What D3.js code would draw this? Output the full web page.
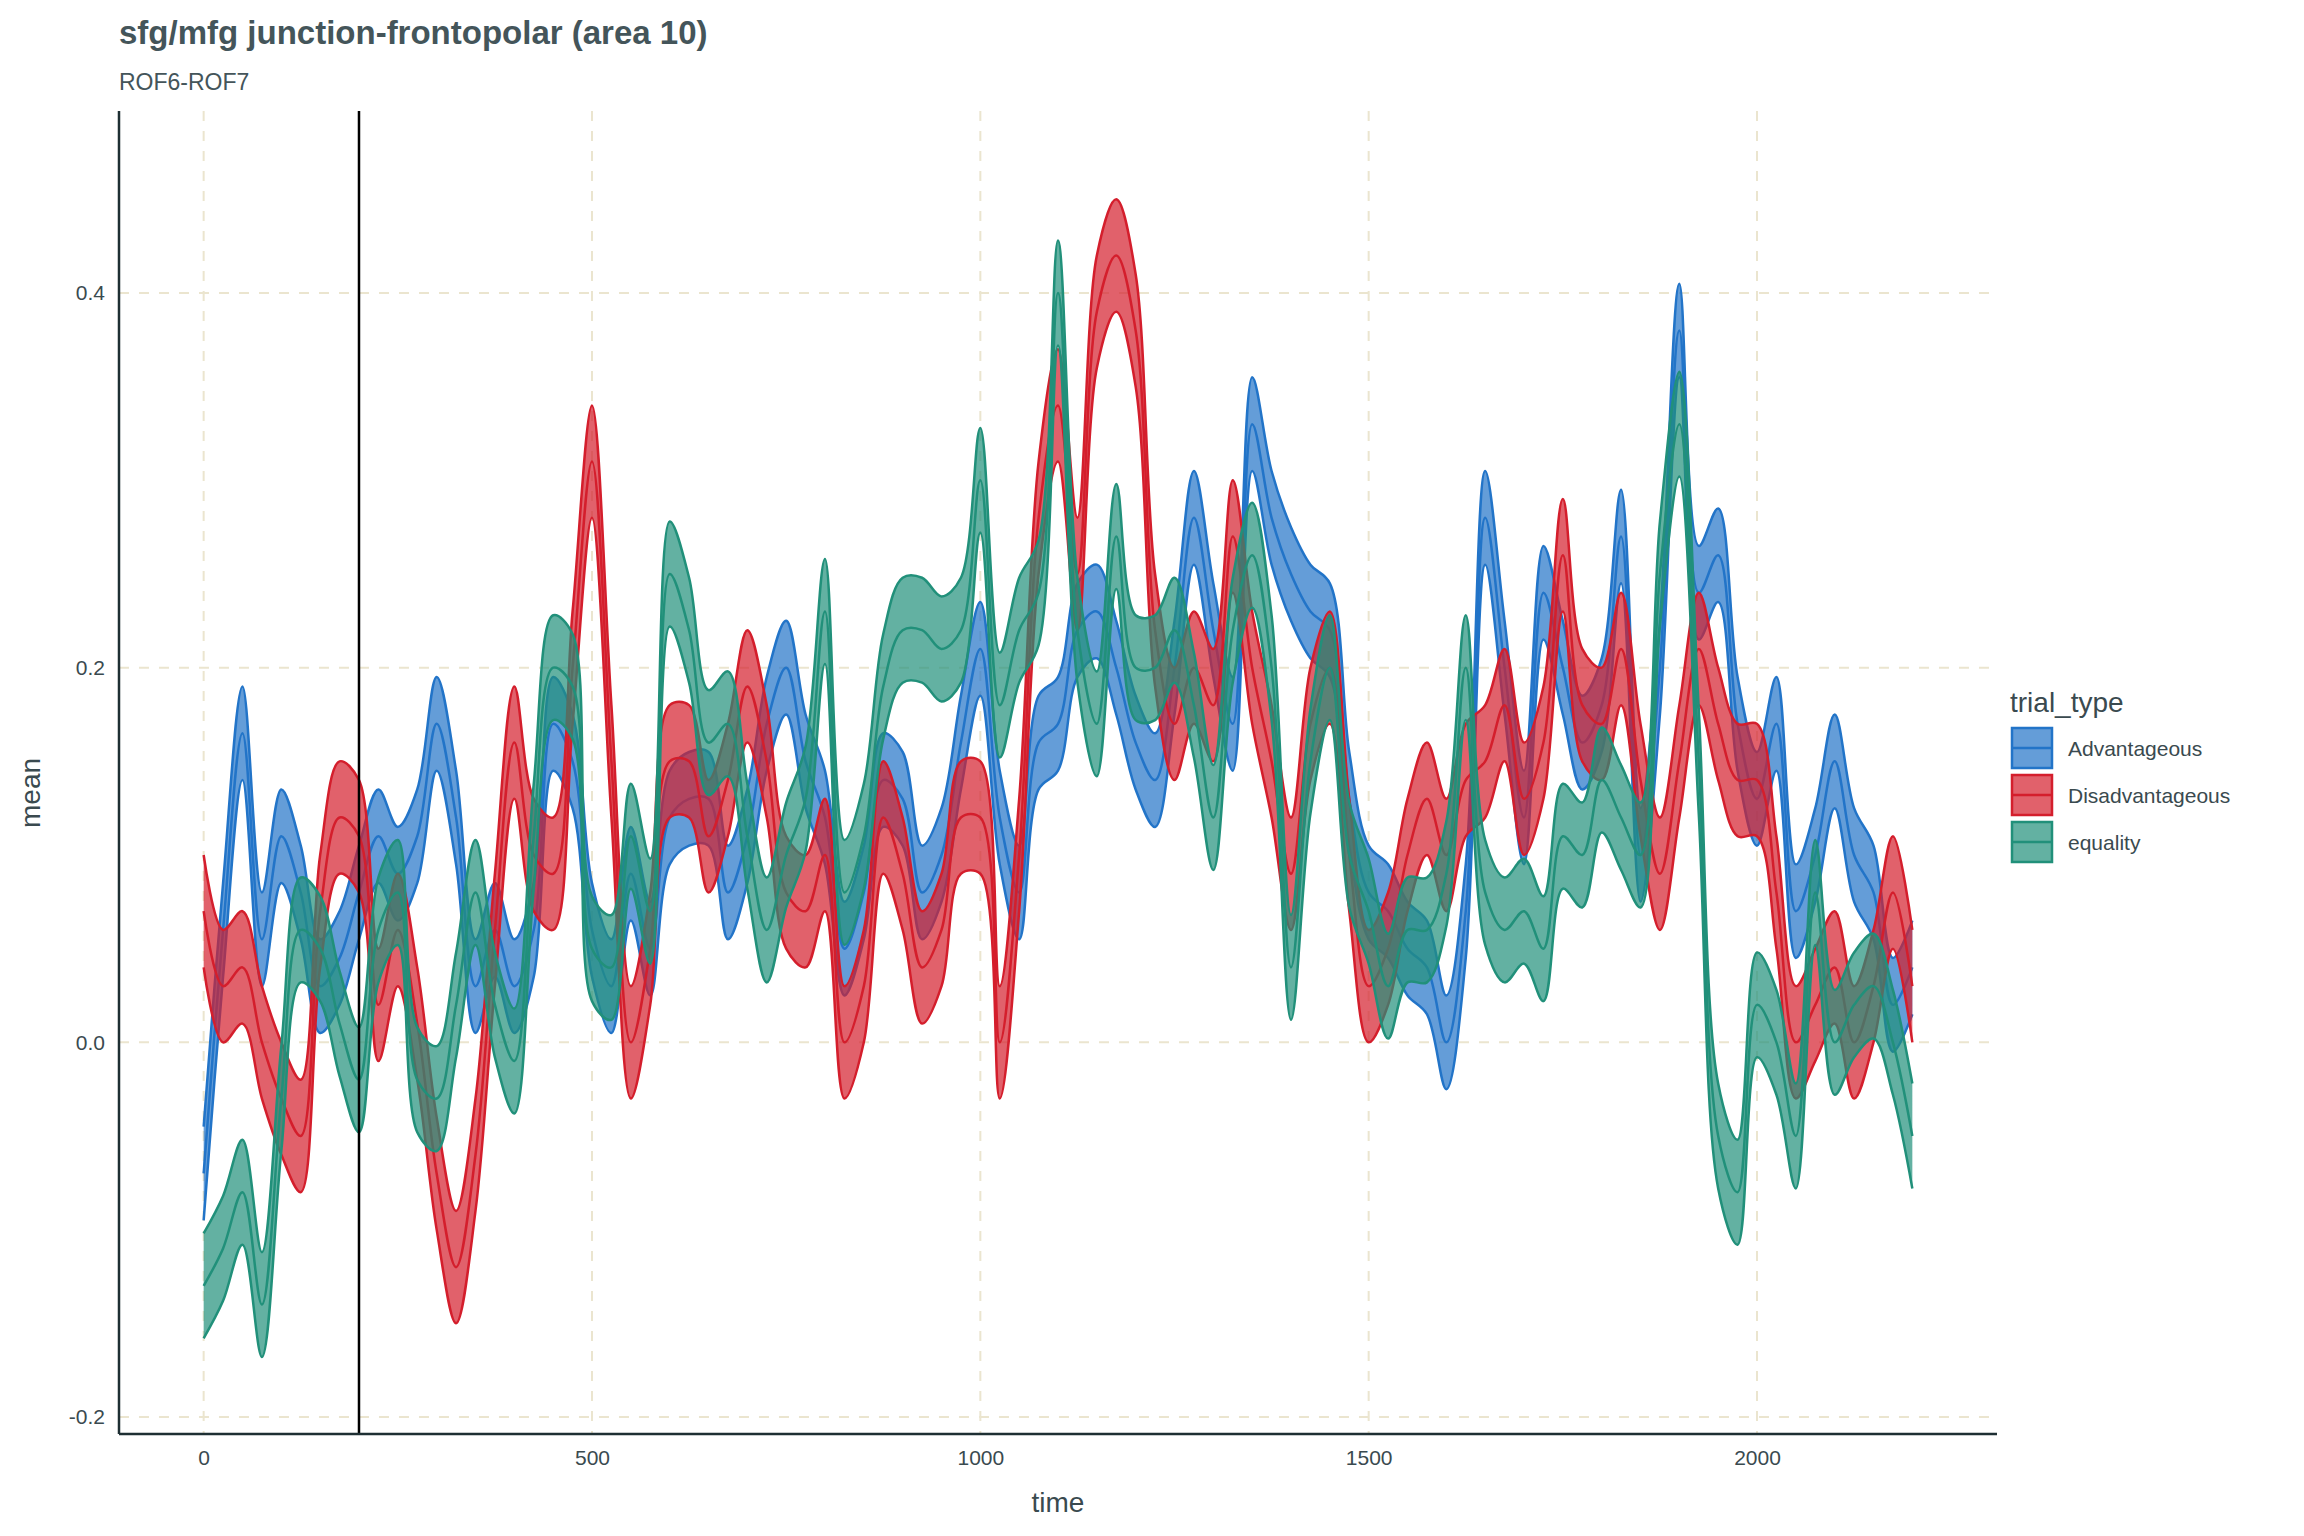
<!DOCTYPE html>
<html><head><meta charset="utf-8">
<script src="https://cdn.jsdelivr.net/npm/d3@7"></script>
<style>body{margin:0;background:#fff;font-family:"Liberation Sans",Arial,sans-serif;}</style>
</head><body><div id="container"></div>
<script>
var width = 2304, height = 1536,
    margin = { left: 119, top: 111, right: 307, bottom: 102 },
    g_width = width - margin.left - margin.right,
    g_height = height - margin.top - margin.bottom;

var times = d3.range(0, 2201, 25);
var series_names = ['Advantageous', 'Disadvantageous', 'equality'];
var colors = ['#2274c8', '#d41e2c', '#21907a'];
var adv = [-0.07,0.06,0.165,0.055,0.11,0.08,0.03,0.045,0.08,0.11,0.09,0.11,0.17,0.12,0.03,0.06,0.03,0.06,0.17,0.15,0.06,0.03,0.09,0.05,0.12,0.13,0.13,0.08,0.11,0.17,0.2,0.15,0.12,0.05,0.08,0.14,0.13,0.08,0.1,0.16,0.21,0.12,0.08,0.16,0.17,0.22,0.23,0.2,0.16,0.14,0.2,0.28,0.22,0.17,0.33,0.28,0.25,0.23,0.22,0.13,0.08,0.07,0.05,0.04,0.0,0.07,0.28,0.2,0.12,0.24,0.2,0.16,0.18,0.27,0.1,0.2,0.38,0.24,0.26,0.17,0.13,0.17,0.07,0.1,0.15,0.1,0.08,0.02,0.04];
var dis = [0.07,0.03,0.04,0.0,-0.03,-0.05,0.07,0.12,0.11,0.02,0.06,0.01,-0.07,-0.12,-0.06,0.06,0.16,0.1,0.09,0.2,0.31,0.15,0.0,0.05,0.15,0.15,0.11,0.14,0.19,0.15,0.08,0.07,0.1,0.0,0.03,0.12,0.09,0.04,0.06,0.12,0.12,0.0,0.1,0.28,0.34,0.25,0.39,0.42,0.38,0.22,0.17,0.2,0.18,0.27,0.2,0.15,0.09,0.17,0.2,0.1,0.03,0.05,0.1,0.13,0.1,0.14,0.15,0.18,0.13,0.16,0.26,0.18,0.17,0.21,0.14,0.09,0.15,0.21,0.17,0.14,0.14,0.08,0.0,0.02,0.04,0.0,0.03,0.08,0.03];
var equ = [-0.13,-0.11,-0.08,-0.14,-0.03,0.06,0.05,0.01,-0.02,0.06,0.08,-0.02,-0.03,0.02,0.08,0.02,-0.01,0.11,0.2,0.19,0.05,0.04,0.11,0.07,0.25,0.22,0.16,0.17,0.11,0.06,0.1,0.13,0.23,0.08,0.11,0.19,0.22,0.22,0.21,0.22,0.3,0.18,0.22,0.24,0.4,0.22,0.17,0.27,0.2,0.2,0.22,0.18,0.12,0.22,0.26,0.2,0.04,0.15,0.2,0.1,0.07,0.03,0.06,0.06,0.09,0.2,0.08,0.06,0.07,0.05,0.11,0.1,0.14,0.12,0.1,0.25,0.33,0.15,-0.05,-0.08,0.02,0.0,-0.05,0.08,0.0,0.02,0.03,0.0,-0.05];
var half_width = [0.025, 0.03, 0.028];
var x_ticks = [0, 500, 1000, 1500, 2000];
var y_ticks = [-0.2, 0.0, 0.2, 0.4];
var means = [adv, dis, equ];

var svg = d3.select('#container').append('svg')
    .attr('width', width).attr('height', height);
var g = svg.append('g')
    .attr('transform', 'translate(' + margin.left + ',' + margin.top + ')');

var scale_x = d3.scaleLinear().domain([-109, 2309]).range([0, g_width]);
var scale_y = d3.scaleLinear().domain([-0.2, 0.4]).range([1417 - margin.top, 293 - margin.top]);

// grid
g.selectAll('.gx').data(x_ticks).enter().append('line')
    .attr('x1', d => scale_x(d)).attr('x2', d => scale_x(d))
    .attr('y1', 0).attr('y2', g_height)
    .attr('stroke', '#ebe5cf').attr('stroke-width', 2).attr('stroke-dasharray', '10,10');
g.selectAll('.gy').data(y_ticks).enter().append('line')
    .attr('y1', d => scale_y(d)).attr('y2', d => scale_y(d))
    .attr('x1', 0).attr('x2', g_width)
    .attr('stroke', '#ebe5cf').attr('stroke-width', 2).attr('stroke-dasharray', '10,10');

var area = d3.area().x((d, i) => scale_x(times[i]))
    .y0(d => scale_y(d[0])).y1(d => scale_y(d[1])).curve(d3.curveCatmullRom);
var line = d3.line().x((d, i) => scale_x(times[i])).y(d => scale_y(d)).curve(d3.curveCatmullRom);

means.forEach(function (m, k) {
    var hw = half_width[k];
    var band = m.map(v => [v - hw, v + hw]);
    g.append('path').attr('d', area(band)).attr('fill', colors[k]).attr('fill-opacity', 0.7);
    [m.map(v => v - hw), m, m.map(v => v + hw)].forEach(function (l) {
        g.append('path').attr('d', line(l)).attr('fill', 'none')
            .attr('stroke', colors[k]).attr('stroke-width', 2.5);
    });
});

// onset line
g.append('line').attr('x1', scale_x(200)).attr('x2', scale_x(200))
    .attr('y1', 0).attr('y2', g_height).attr('stroke', '#000').attr('stroke-width', 2.5);

// axes
var x_axis = d3.axisBottom(scale_x).tickValues(x_ticks).tickSize(0).tickPadding(16).tickFormat(d => d);
var y_axis = d3.axisLeft(scale_y).tickValues(y_ticks).tickSize(0).tickPadding(14)
    .tickFormat(d => d3.format('.1f')(d).replace('−', '-'));
var gx = g.append('g').attr('transform', 'translate(0,' + g_height + ')').call(x_axis);
var gy = g.append('g').call(y_axis);
[gx, gy].forEach(function (a) {
    a.select('.domain').remove();
    a.selectAll('text').attr('font-size', 21).attr('fill', '#3a4a4f')
        .attr('font-family', '"Liberation Sans", Arial, sans-serif');
});
g.append('line').attr('x1', 0).attr('x2', g_width).attr('y1', g_height).attr('y2', g_height)
    .attr('stroke', '#1e2f33').attr('stroke-width', 2.5);
g.append('line').attr('x1', 0).attr('x2', 0).attr('y1', 0).attr('y2', g_height)
    .attr('stroke', '#1e2f33').attr('stroke-width', 2.5);

svg.append('text').attr('x', 1058).attr('y', 1512).attr('text-anchor', 'middle')
    .attr('font-size', 28).attr('fill', '#3a4a4f').text('time');
svg.append('text').attr('transform', 'translate(40,793) rotate(-90)').attr('text-anchor', 'middle')
    .attr('font-size', 28).attr('fill', '#3a4a4f').text('mean');
svg.append('text').attr('x', 119).attr('y', 44).attr('font-size', 33).attr('font-weight', 'bold')
    .attr('fill', '#44555a').text('sfg/mfg junction-frontopolar (area 10)');
svg.append('text').attr('x', 119).attr('y', 90).attr('font-size', 23)
    .attr('fill', '#44555a').text('ROF6-ROF7');

// legend
var lg = svg.append('g').attr('transform', 'translate(2010,700)');
lg.append('text').attr('x', 0).attr('y', 12).attr('font-size', 28).attr('fill', '#3a4a4f').text('trial_type');
series_names.forEach(function (n, k) {
    var yy = 28 + k * 47;
    lg.append('rect').attr('x', 2).attr('y', yy).attr('width', 40).attr('height', 40)
        .attr('fill', colors[k]).attr('fill-opacity', 0.7).attr('stroke', colors[k]).attr('stroke-width', 2.5);
    lg.append('line').attr('x1', 2).attr('x2', 42).attr('y1', yy + 20).attr('y2', yy + 20)
        .attr('stroke', colors[k]).attr('stroke-width', 2.5);
    lg.append('text').attr('x', 58).attr('y', yy + 28).attr('font-size', 21).attr('fill', '#3a4a4f').text(n);
});
</script></body></html>
